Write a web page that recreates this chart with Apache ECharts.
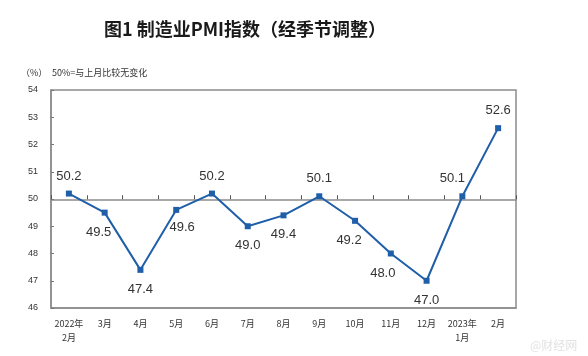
<!DOCTYPE html>
<html><head><meta charset="utf-8">
<script src="https://cdn.jsdelivr.net/npm/echarts@6/dist/echarts.min.js"></script>
<style>html,body{margin:0;padding:0;background:#fff}#c{width:588px;height:356px}</style>
</head><body><div id="c"></div>
<script>
const categories = ['2022年\n2月','3月','4月','5月','6月','7月','8月','9月','10月','11月','12月','2023年\n1月','2月'];
const pmiValues = [50.2, 49.5, 47.4, 49.6, 50.2, 49.0, 49.4, 50.1, 49.2, 48.0, 47.0, 50.1, 52.6];
const yTicks = [46, 47, 48, 49, 50, 51, 52, 53, 54];
const labelSide = ['top','bottom','bottom','bottom','top','bottom','bottom','top','bottom','bottom','bottom','top','top'];
const labelShift = [[0,0],[-6,2],[0,2],[6,0],[0,0],[0,2],[0,2],[0,0],[-6,2],[-8,2],[0,2],[-10,0],[0,0]];

const chart = echarts.init(document.getElementById('c'));
const FONT = '"Liberation Sans", "Noto Sans CJK SC", sans-serif';
chart.setOption({
  animation: false,
  title: {
    text: '图1 制造业PMI指数（经季节调整）',
    left: 240, textAlign: 'center', top: 15,
    textStyle: { fontFamily: '"Noto Sans CJK SC", sans-serif', fontSize: 18, fontWeight: 'bold', color: '#1a1a1a' }
  },
  graphic: [
    { type: 'text', left: 21, top: 68, style: { text: '（%）', fill: '#333', font: '9px "Noto Sans CJK SC"' } },
    { type: 'text', left: 52, top: 68, style: { text: '50%=与上月比较无变化', fill: '#333', font: '9px "Noto Sans CJK SC"' } },
    { type: 'text', left: 530, top: 339, style: { text: '@财经网', fill: '#e2e2e2', font: '12px "Noto Sans CJK SC"' } }
  ],
  grid: { left: 51, right: 72, top: 90, bottom: 48, show: true, borderColor: '#8c8c8c', borderWidth: 1.5 },
  xAxis: [
    {
      type: 'category', data: categories, boundaryGap: true,
      axisLine: { show: true, lineStyle: { color: '#8c8c8c', width: 1.5 } },
      axisTick: { show: false },
      axisLabel: { interval: 0, fontSize: 9, color: '#333', margin: 9, lineHeight: 14, fontFamily: '"Noto Sans CJK SC", sans-serif' }
    },
    {
      type: 'category', data: categories, boundaryGap: true, position: 'bottom', offset: -108.75,
      axisLine: { show: true, lineStyle: { color: '#8c8c8c', width: 1.5 } },
      axisTick: { show: true, inside: true, interval: 0, length: 4, lineStyle: { color: '#555' } },
      axisLabel: { show: false }
    }
  ],
  yAxis: {
    type: 'value', min: yTicks[0], max: yTicks[yTicks.length - 1], interval: 1,
    axisLine: { show: true, lineStyle: { color: '#8c8c8c', width: 1.5 } },
    axisTick: { show: true, inside: true, length: 3, lineStyle: { color: '#777' } },
    splitLine: { show: false },
    axisLabel: { fontSize: 9, color: '#333', margin: 13, fontFamily: FONT }
  },
  series: [{
    type: 'line', xAxisIndex: 0,
    data: pmiValues.map((v, i) => ({
      value: v,
      label: { position: labelSide[i], offset: labelShift[i] }
    })),
    symbol: 'rect', symbolSize: 6,
    lineStyle: { color: '#1f5ea8', width: 2 },
    itemStyle: { color: '#1f5ea8' },
    label: { show: true, fontSize: 13, color: '#333', distance: 8, fontFamily: FONT, formatter: p => p.value.toFixed(1) }
  }]
});
</script></body></html>
